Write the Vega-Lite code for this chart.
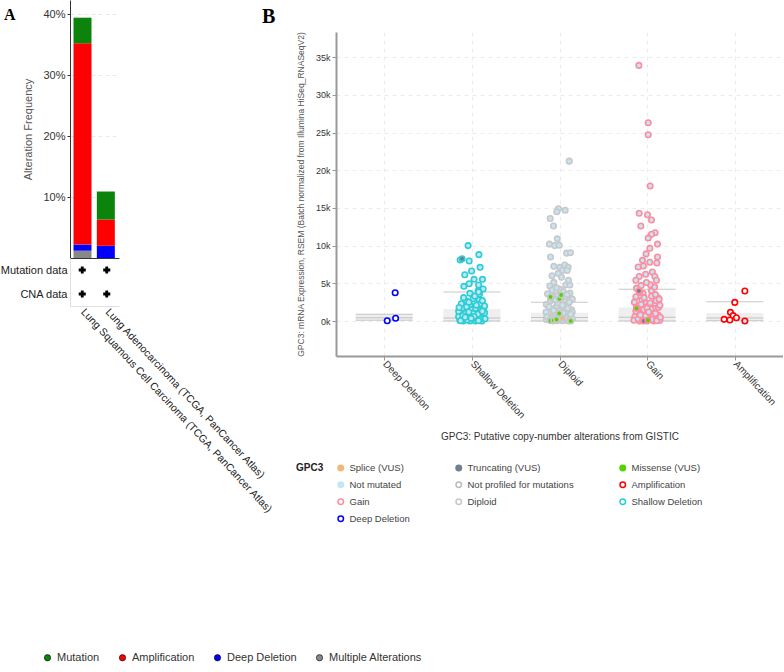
{
  "$schema": "https://vega.github.io/schema/vega-lite/v6.json",
  "padding": {"left": 0, "top": 0, "right": 0, "bottom": 0},
  "background": "white",
  "config": {"font": "Liberation Sans", "view": {"stroke": null}},
  "datasets": {
    "freq": [
      {"study": "Lung Squamous Cell Carcinoma (TCGA, PanCancer Atlas)", "type": "Multiple Alterations", "lo": 0, "hi": 1.2},
      {"study": "Lung Squamous Cell Carcinoma (TCGA, PanCancer Atlas)", "type": "Deep Deletion", "lo": 1.2, "hi": 2.2},
      {"study": "Lung Squamous Cell Carcinoma (TCGA, PanCancer Atlas)", "type": "Amplification", "lo": 2.2, "hi": 35.2},
      {"study": "Lung Squamous Cell Carcinoma (TCGA, PanCancer Atlas)", "type": "Mutation", "lo": 35.2, "hi": 39.4},
      {"study": "Lung Adenocarcinoma (TCGA, PanCancer Atlas)", "type": "Deep Deletion", "lo": 0, "hi": 2.0},
      {"study": "Lung Adenocarcinoma (TCGA, PanCancer Atlas)", "type": "Amplification", "lo": 2.0, "hi": 6.3},
      {"study": "Lung Adenocarcinoma (TCGA, PanCancer Atlas)", "type": "Mutation", "lo": 6.3, "hi": 10.9}
    ],
    "profile": [
      {"study": "Lung Squamous Cell Carcinoma (TCGA, PanCancer Atlas)", "row": "Mutation data"},
      {"study": "Lung Squamous Cell Carcinoma (TCGA, PanCancer Atlas)", "row": "CNA data"},
      {"study": "Lung Adenocarcinoma (TCGA, PanCancer Atlas)", "row": "Mutation data"},
      {"study": "Lung Adenocarcinoma (TCGA, PanCancer Atlas)", "row": "CNA data"}
    ],
    "blank": [{"t": ""}],
    "box": [
      {"c": "Deep Deletion", "lo": 100, "q1": 100, "med": 440, "q3": 900, "hi": 900},
      {"c": "Shallow Deletion", "lo": 0, "q1": 0, "med": 400, "q3": 1600, "hi": 3850},
      {"c": "Diploid", "lo": 0, "q1": 0, "med": 450, "q3": 1100, "hi": 2500},
      {"c": "Gain", "lo": 0, "q1": 0, "med": 500, "q3": 1800, "hi": 4200},
      {"c": "Amplification", "lo": 50, "q1": 50, "med": 400, "q3": 1050, "hi": 2550}
    ],
    "pts": [
      {"c": "Deep Deletion", "v": 40, "j": 0.2, "m": "Not profiled for mutations"},
      {"c": "Deep Deletion", "v": 360, "j": 0.76, "m": "Not profiled for mutations"},
      {"c": "Deep Deletion", "v": 3750, "j": 0.73, "m": "Not profiled for mutations"},

      {"c": "Shallow Deletion", "v": 10000, "j": -0.25, "m": "Not mutated"},
      {"c": "Shallow Deletion", "v": 8800, "j": 0.47, "m": "Not mutated"},
      {"c": "Shallow Deletion", "v": 8100, "j": -0.78, "m": "Not mutated"},
      {"c": "Shallow Deletion", "v": 7960, "j": -0.18, "m": "Not mutated"},
      {"c": "Shallow Deletion", "v": 7120, "j": 0.55, "m": "Not mutated"},
      {"c": "Shallow Deletion", "v": 6630, "j": -0.02, "m": "Not mutated"},
      {"c": "Shallow Deletion", "v": 6140, "j": -0.47, "m": "Not mutated"},
      {"c": "Shallow Deletion", "v": 5530, "j": 0.15, "m": "Not mutated"},
      {"c": "Shallow Deletion", "v": 5530, "j": 0.71, "m": "Not mutated"},
      {"c": "Shallow Deletion", "v": 4600, "j": -0.53, "m": "Not mutated"},
      {"c": "Shallow Deletion", "v": 4950, "j": -0.18, "m": "Not mutated"},
      {"c": "Shallow Deletion", "v": 4770, "j": 0.45, "m": "Not mutated"},
      {"c": "Shallow Deletion", "v": 4240, "j": 0.75, "m": "Not mutated"},
      {"c": "Shallow Deletion", "v": 4000, "j": 0.42, "m": "Not mutated"},
      {"c": "Shallow Deletion", "v": 3670, "j": -0.13, "m": "Not mutated"},
      {"c": "Shallow Deletion", "v": 3580, "j": 0.51, "m": "Not mutated"},
      {"c": "Shallow Deletion", "v": 2650, "j": -0.36, "m": "Not mutated"},
      {"c": "Shallow Deletion", "v": 2960, "j": 0.09, "m": "Not mutated"},
      {"c": "Shallow Deletion", "v": 2790, "j": 0.49, "m": "Not mutated"},
      {"c": "Shallow Deletion", "v": 1720, "j": -0.64, "m": "Not mutated"},
      {"c": "Shallow Deletion", "v": 2120, "j": -0.13, "m": "Not mutated"},
      {"c": "Shallow Deletion", "v": 1630, "j": 0.76, "m": "Not mutated"},
      {"c": "Shallow Deletion", "v": 1230, "j": 0.31, "m": "Not mutated"},
      {"c": "Shallow Deletion", "v": 1020, "j": -0.47, "m": "Not mutated"},
      {"c": "Shallow Deletion", "v": 800, "j": 0.04, "m": "Not mutated"},
      {"c": "Shallow Deletion", "v": 800, "j": 0.64, "m": "Not mutated"},
      {"c": "Shallow Deletion", "v": 360, "j": -0.69, "m": "Not mutated"},
      {"c": "Shallow Deletion", "v": 440, "j": -0.24, "m": "Not mutated"},
      {"c": "Shallow Deletion", "v": 440, "j": 0.31, "m": "Not mutated"},
      {"c": "Shallow Deletion", "v": 440, "j": 0.76, "m": "Not mutated"},
      {"c": "Shallow Deletion", "v": 0, "j": -0.58, "m": "Not mutated"},
      {"c": "Shallow Deletion", "v": 0, "j": -0.13, "m": "Not mutated"},
      {"c": "Shallow Deletion", "v": 0, "j": 0.24, "m": "Not mutated"},
      {"c": "Shallow Deletion", "v": 0, "j": 0.67, "m": "Not mutated"},
      {"c": "Shallow Deletion", "v": 100, "j": -0.8, "m": "Not mutated"},
      {"c": "Shallow Deletion", "v": 600, "j": -0.88, "m": "Not mutated"},
      {"c": "Shallow Deletion", "v": 300, "j": 0.88, "m": "Not mutated"},
      {"c": "Shallow Deletion", "v": 1500, "j": 0.0, "m": "Not mutated"},
      {"c": "Shallow Deletion", "v": 1900, "j": -0.35, "m": "Not mutated"},
      {"c": "Shallow Deletion", "v": 2300, "j": 0.55, "m": "Not mutated"},
      {"c": "Shallow Deletion", "v": 3100, "j": -0.55, "m": "Not mutated"},
      {"c": "Shallow Deletion", "v": 3300, "j": 0.2, "m": "Not mutated"},
      {"c": "Shallow Deletion", "v": 1100, "j": 0.85, "m": "Not mutated"},
      {"c": "Shallow Deletion", "v": 1300, "j": -0.88, "m": "Not mutated"},
      {"c": "Shallow Deletion", "v": 200, "j": 0.35, "m": "Not mutated"},
      {"c": "Shallow Deletion", "v": 200, "j": -0.4, "m": "Not mutated"},
      {"c": "Shallow Deletion", "v": 1000, "j": 0.1, "m": "Not mutated"},
      {"c": "Shallow Deletion", "v": 1450, "j": 0.6, "m": "Not mutated"},
      {"c": "Shallow Deletion", "v": 2500, "j": -0.2, "m": "Not mutated"},
      {"c": "Shallow Deletion", "v": 2000, "j": 0.85, "m": "Not mutated"},
      {"c": "Shallow Deletion", "v": 2300, "j": -0.7, "m": "Not mutated"},
      {"c": "Shallow Deletion", "v": 3850, "j": 0.45, "m": "Not mutated"},
      {"c": "Shallow Deletion", "v": 150, "j": -0.3, "m": "Not mutated"},
      {"c": "Shallow Deletion", "v": 250, "j": 0.55, "m": "Not mutated"},
      {"c": "Shallow Deletion", "v": 700, "j": -0.6, "m": "Not mutated"},
      {"c": "Shallow Deletion", "v": 900, "j": 0.4, "m": "Not mutated"},
      {"c": "Shallow Deletion", "v": 1200, "j": -0.2, "m": "Not mutated"},
      {"c": "Shallow Deletion", "v": 1700, "j": 0.25, "m": "Not mutated"},
      {"c": "Shallow Deletion", "v": 600, "j": 0.15, "m": "Not mutated"},
      {"c": "Shallow Deletion", "v": 50, "j": 0.45, "m": "Not mutated"},
      {"c": "Shallow Deletion", "v": 50, "j": -0.75, "m": "Not mutated"},
      {"c": "Shallow Deletion", "v": 1800, "j": -0.85, "m": "Not mutated"},
      {"c": "Shallow Deletion", "v": 2700, "j": 0.7, "m": "Not mutated"},
      {"c": "Shallow Deletion", "v": 350, "j": -0.05, "m": "Not mutated"},
      {"c": "Shallow Deletion", "v": 1300, "j": 0.7, "m": "Not mutated"},
      {"c": "Shallow Deletion", "v": 2100, "j": 0.3, "m": "Not mutated"},
      {"c": "Shallow Deletion", "v": 500, "j": -0.45, "m": "Not mutated"},
      {"c": "Shallow Deletion", "v": 8260, "j": -0.65, "m": "Truncating (VUS)"},

      {"c": "Diploid", "v": 21200, "j": 0.65, "m": "Not mutated"},
      {"c": "Diploid", "v": 14900, "j": -0.07, "m": "Not mutated"},
      {"c": "Diploid", "v": 14700, "j": 0.38, "m": "Not mutated"},
      {"c": "Diploid", "v": 14500, "j": -0.18, "m": "Not mutated"},
      {"c": "Diploid", "v": 13600, "j": -0.62, "m": "Not mutated"},
      {"c": "Diploid", "v": 12600, "j": -0.4, "m": "Not mutated"},
      {"c": "Diploid", "v": 10900, "j": -0.15, "m": "Not mutated"},
      {"c": "Diploid", "v": 10200, "j": -0.67, "m": "Not mutated"},
      {"c": "Diploid", "v": 10000, "j": -0.33, "m": "Not mutated"},
      {"c": "Diploid", "v": 10050, "j": -0.02, "m": "Not mutated"},
      {"c": "Diploid", "v": 8500, "j": -0.6, "m": "Not mutated"},
      {"c": "Diploid", "v": 9000, "j": 0.47, "m": "Not mutated"},
      {"c": "Diploid", "v": 9060, "j": 0.73, "m": "Not mutated"},
      {"c": "Diploid", "v": 7250, "j": -0.38, "m": "Not mutated"},
      {"c": "Diploid", "v": 7120, "j": 0.02, "m": "Not mutated"},
      {"c": "Diploid", "v": 7430, "j": 0.35, "m": "Not mutated"},
      {"c": "Diploid", "v": 7120, "j": 0.58, "m": "Not mutated"},
      {"c": "Diploid", "v": 6320, "j": -0.09, "m": "Not mutated"},
      {"c": "Diploid", "v": 6720, "j": 0.2, "m": "Not mutated"},
      {"c": "Diploid", "v": 6700, "j": 0.51, "m": "Not mutated"},
      {"c": "Diploid", "v": 5130, "j": -0.38, "m": "Not mutated"},
      {"c": "Diploid", "v": 5800, "j": 0.13, "m": "Not mutated"},
      {"c": "Diploid", "v": 4640, "j": -0.64, "m": "Not mutated"},
      {"c": "Diploid", "v": 4770, "j": 0.42, "m": "Not mutated"},
      {"c": "Diploid", "v": 4770, "j": 0.69, "m": "Not mutated"},
      {"c": "Diploid", "v": 4100, "j": -0.49, "m": "Not mutated"},
      {"c": "Diploid", "v": 4200, "j": 0.02, "m": "Not mutated"},
      {"c": "Diploid", "v": 3600, "j": -0.8, "m": "Not mutated"},
      {"c": "Diploid", "v": 3700, "j": 0.7, "m": "Not mutated"},
      {"c": "Diploid", "v": 3300, "j": -0.3, "m": "Not mutated"},
      {"c": "Diploid", "v": 3200, "j": 0.4, "m": "Not mutated"},
      {"c": "Diploid", "v": 2900, "j": 0.85, "m": "Not mutated"},
      {"c": "Diploid", "v": 2700, "j": -0.6, "m": "Not mutated"},
      {"c": "Diploid", "v": 2600, "j": 0.1, "m": "Not mutated"},
      {"c": "Diploid", "v": 2200, "j": -0.88, "m": "Not mutated"},
      {"c": "Diploid", "v": 2300, "j": 0.55, "m": "Not mutated"},
      {"c": "Diploid", "v": 2000, "j": -0.2, "m": "Not mutated"},
      {"c": "Diploid", "v": 1800, "j": 0.3, "m": "Not mutated"},
      {"c": "Diploid", "v": 1600, "j": -0.5, "m": "Not mutated"},
      {"c": "Diploid", "v": 1500, "j": 0.8, "m": "Not mutated"},
      {"c": "Diploid", "v": 1300, "j": 0.0, "m": "Not mutated"},
      {"c": "Diploid", "v": 1100, "j": -0.75, "m": "Not mutated"},
      {"c": "Diploid", "v": 1000, "j": 0.45, "m": "Not mutated"},
      {"c": "Diploid", "v": 800, "j": -0.3, "m": "Not mutated"},
      {"c": "Diploid", "v": 700, "j": 0.65, "m": "Not mutated"},
      {"c": "Diploid", "v": 500, "j": 0.15, "m": "Not mutated"},
      {"c": "Diploid", "v": 400, "j": -0.55, "m": "Not mutated"},
      {"c": "Diploid", "v": 300, "j": 0.88, "m": "Not mutated"},
      {"c": "Diploid", "v": 200, "j": -0.88, "m": "Not mutated"},
      {"c": "Diploid", "v": 100, "j": 0.3, "m": "Not mutated"},
      {"c": "Diploid", "v": 50, "j": -0.15, "m": "Not mutated"},
      {"c": "Diploid", "v": 0, "j": 0.6, "m": "Not mutated"},
      {"c": "Diploid", "v": 0, "j": -0.4, "m": "Not mutated"},
      {"c": "Diploid", "v": 250, "j": 0.05, "m": "Not mutated"},
      {"c": "Diploid", "v": 600, "j": -0.85, "m": "Not mutated"},
      {"c": "Diploid", "v": 1200, "j": 0.85, "m": "Not mutated"},
      {"c": "Diploid", "v": 2400, "j": -0.1, "m": "Not mutated"},
      {"c": "Diploid", "v": 3900, "j": 0.25, "m": "Not mutated"},
      {"c": "Diploid", "v": 3000, "j": -0.45, "m": "Not mutated"},
      {"c": "Diploid", "v": 150, "j": -0.65, "m": "Not mutated"},
      {"c": "Diploid", "v": 450, "j": 0.35, "m": "Not mutated"},
      {"c": "Diploid", "v": 650, "j": -0.1, "m": "Not mutated"},
      {"c": "Diploid", "v": 900, "j": 0.75, "m": "Not mutated"},
      {"c": "Diploid", "v": 1400, "j": -0.4, "m": "Not mutated"},
      {"c": "Diploid", "v": 1700, "j": 0.55, "m": "Not mutated"},
      {"c": "Diploid", "v": 1900, "j": -0.7, "m": "Not mutated"},
      {"c": "Diploid", "v": 2100, "j": 0.2, "m": "Not mutated"},
      {"c": "Diploid", "v": 2500, "j": 0.65, "m": "Not mutated"},
      {"c": "Diploid", "v": 2800, "j": -0.25, "m": "Not mutated"},
      {"c": "Diploid", "v": 3400, "j": -0.1, "m": "Not mutated"},
      {"c": "Diploid", "v": 3500, "j": 0.5, "m": "Not mutated"},
      {"c": "Diploid", "v": 1200, "j": -0.9, "m": "Not mutated"},
      {"c": "Diploid", "v": 50, "j": 0.2, "m": "Not mutated"},
      {"c": "Diploid", "v": 350, "j": -0.3, "m": "Not mutated"},
      {"c": "Diploid", "v": 750, "j": 0.05, "m": "Not mutated"},
      {"c": "Diploid", "v": 1050, "j": 0.25, "m": "Not mutated"},
      {"c": "Diploid", "v": 4400, "j": -0.2, "m": "Not mutated"},
      {"c": "Diploid", "v": 5400, "j": 0.6, "m": "Not mutated"},
      {"c": "Diploid", "v": 6000, "j": -0.5, "m": "Not mutated"},
      {"c": "Diploid", "v": 3200, "j": -0.6, "m": "Missense (VUS)"},
      {"c": "Diploid", "v": 2960, "j": 0.0, "m": "Missense (VUS)"},
      {"c": "Diploid", "v": 3450, "j": 0.11, "m": "Missense (VUS)"},
      {"c": "Diploid", "v": 1000, "j": -0.02, "m": "Missense (VUS)"},
      {"c": "Diploid", "v": 40, "j": -0.6, "m": "Missense (VUS)"},
      {"c": "Diploid", "v": 0, "j": 0.75, "m": "Missense (VUS)"},
      {"c": "Diploid", "v": 100, "j": -0.38, "m": "Missense (VUS)"},
      {"c": "Diploid", "v": 200, "j": -0.2, "m": "Missense (VUS)"},
      {"c": "Diploid", "v": 350, "j": 0.18, "m": "Splice (VUS)"},

      {"c": "Gain", "v": 33900, "j": -0.55, "m": "Not mutated"},
      {"c": "Gain", "v": 26300, "j": 0.07, "m": "Not mutated"},
      {"c": "Gain", "v": 24700, "j": 0.07, "m": "Not mutated"},
      {"c": "Gain", "v": 17900, "j": 0.2, "m": "Not mutated"},
      {"c": "Gain", "v": 14300, "j": -0.53, "m": "Not mutated"},
      {"c": "Gain", "v": 14100, "j": 0.02, "m": "Not mutated"},
      {"c": "Gain", "v": 13400, "j": 0.29, "m": "Not mutated"},
      {"c": "Gain", "v": 12600, "j": -0.42, "m": "Not mutated"},
      {"c": "Gain", "v": 11700, "j": 0.53, "m": "Not mutated"},
      {"c": "Gain", "v": 11500, "j": 0.29, "m": "Not mutated"},
      {"c": "Gain", "v": 11000, "j": 0.07, "m": "Not mutated"},
      {"c": "Gain", "v": 10200, "j": 0.69, "m": "Not mutated"},
      {"c": "Gain", "v": 9640, "j": 0.18, "m": "Not mutated"},
      {"c": "Gain", "v": 8900, "j": -0.07, "m": "Not mutated"},
      {"c": "Gain", "v": 8500, "j": 0.69, "m": "Not mutated"},
      {"c": "Gain", "v": 8050, "j": -0.31, "m": "Not mutated"},
      {"c": "Gain", "v": 7800, "j": 0.18, "m": "Not mutated"},
      {"c": "Gain", "v": 7700, "j": 0.65, "m": "Not mutated"},
      {"c": "Gain", "v": 7160, "j": -0.6, "m": "Not mutated"},
      {"c": "Gain", "v": 7300, "j": -0.25, "m": "Not mutated"},
      {"c": "Gain", "v": 6500, "j": 0.35, "m": "Not mutated"},
      {"c": "Gain", "v": 5900, "j": 0.51, "m": "Not mutated"},
      {"c": "Gain", "v": 5900, "j": -0.53, "m": "Not mutated"},
      {"c": "Gain", "v": 5400, "j": 0.62, "m": "Not mutated"},
      {"c": "Gain", "v": 4800, "j": 0.22, "m": "Not mutated"},
      {"c": "Gain", "v": 5400, "j": -0.75, "m": "Not mutated"},
      {"c": "Gain", "v": 4330, "j": -0.71, "m": "Not mutated"},
      {"c": "Gain", "v": 3670, "j": -0.27, "m": "Not mutated"},
      {"c": "Gain", "v": 4000, "j": 0.29, "m": "Not mutated"},
      {"c": "Gain", "v": 3090, "j": 0.73, "m": "Not mutated"},
      {"c": "Gain", "v": 3220, "j": -0.75, "m": "Not mutated"},
      {"c": "Gain", "v": 2560, "j": -0.16, "m": "Not mutated"},
      {"c": "Gain", "v": 2340, "j": 0.51, "m": "Not mutated"},
      {"c": "Gain", "v": 1460, "j": -0.27, "m": "Not mutated"},
      {"c": "Gain", "v": 1230, "j": 0.35, "m": "Not mutated"},
      {"c": "Gain", "v": 800, "j": 0.73, "m": "Not mutated"},
      {"c": "Gain", "v": 570, "j": -0.82, "m": "Not mutated"},
      {"c": "Gain", "v": 440, "j": -0.38, "m": "Not mutated"},
      {"c": "Gain", "v": 440, "j": 0.18, "m": "Not mutated"},
      {"c": "Gain", "v": 360, "j": 0.62, "m": "Not mutated"},
      {"c": "Gain", "v": 100, "j": -0.88, "m": "Not mutated"},
      {"c": "Gain", "v": 0, "j": -0.5, "m": "Not mutated"},
      {"c": "Gain", "v": 0, "j": 0.0, "m": "Not mutated"},
      {"c": "Gain", "v": 0, "j": 0.45, "m": "Not mutated"},
      {"c": "Gain", "v": 100, "j": 0.85, "m": "Not mutated"},
      {"c": "Gain", "v": 2000, "j": -0.7, "m": "Not mutated"},
      {"c": "Gain", "v": 1900, "j": 0.05, "m": "Not mutated"},
      {"c": "Gain", "v": 1800, "j": 0.75, "m": "Not mutated"},
      {"c": "Gain", "v": 2800, "j": -0.35, "m": "Not mutated"},
      {"c": "Gain", "v": 3300, "j": 0.3, "m": "Not mutated"},
      {"c": "Gain", "v": 5100, "j": -0.05, "m": "Not mutated"},
      {"c": "Gain", "v": 4500, "j": 0.5, "m": "Not mutated"},
      {"c": "Gain", "v": 1100, "j": -0.5, "m": "Not mutated"},
      {"c": "Gain", "v": 900, "j": 0.15, "m": "Not mutated"},
      {"c": "Gain", "v": 2700, "j": 0.6, "m": "Not mutated"},
      {"c": "Gain", "v": 3100, "j": -0.2, "m": "Not mutated"},
      {"c": "Gain", "v": 2500, "j": -0.85, "m": "Not mutated"},
      {"c": "Gain", "v": 2100, "j": 0.85, "m": "Not mutated"},
      {"c": "Gain", "v": 600, "j": 0.4, "m": "Not mutated"},
      {"c": "Gain", "v": 250, "j": -0.15, "m": "Not mutated"},
      {"c": "Gain", "v": 1500, "j": -0.6, "m": "Not mutated"},
      {"c": "Gain", "v": 1600, "j": 0.25, "m": "Not mutated"},
      {"c": "Gain", "v": 200, "j": 0.3, "m": "Not mutated"},
      {"c": "Gain", "v": 300, "j": -0.6, "m": "Not mutated"},
      {"c": "Gain", "v": 700, "j": -0.1, "m": "Not mutated"},
      {"c": "Gain", "v": 1000, "j": 0.55, "m": "Not mutated"},
      {"c": "Gain", "v": 1300, "j": -0.75, "m": "Not mutated"},
      {"c": "Gain", "v": 1700, "j": 0.0, "m": "Not mutated"},
      {"c": "Gain", "v": 2200, "j": -0.4, "m": "Not mutated"},
      {"c": "Gain", "v": 2400, "j": 0.2, "m": "Not mutated"},
      {"c": "Gain", "v": 2900, "j": 0.8, "m": "Not mutated"},
      {"c": "Gain", "v": 3500, "j": 0.55, "m": "Not mutated"},
      {"c": "Gain", "v": 3800, "j": -0.5, "m": "Not mutated"},
      {"c": "Gain", "v": 50, "j": 0.65, "m": "Not mutated"},
      {"c": "Gain", "v": 50, "j": -0.3, "m": "Not mutated"},
      {"c": "Gain", "v": 500, "j": 0.88, "m": "Not mutated"},
      {"c": "Gain", "v": 800, "j": -0.45, "m": "Not mutated"},
      {"c": "Gain", "v": 1200, "j": 0.1, "m": "Not mutated"},
      {"c": "Gain", "v": 6200, "j": -0.1, "m": "Not mutated"},
      {"c": "Gain", "v": 4700, "j": -0.4, "m": "Not mutated"},
      {"c": "Gain", "v": 4000, "j": -0.55, "m": "Truncating (VUS)"},
      {"c": "Gain", "v": 1680, "j": -0.71, "m": "Missense (VUS)"},
      {"c": "Gain", "v": 0, "j": -0.22, "m": "Truncating (VUS)"},
      {"c": "Gain", "v": 100, "j": 0.05, "m": "Missense (VUS)"},

      {"c": "Amplification", "v": 3980, "j": 0.67, "m": "Not profiled for mutations"},
      {"c": "Amplification", "v": 2470, "j": 0.0, "m": "Not profiled for mutations"},
      {"c": "Amplification", "v": 1150, "j": -0.29, "m": "Not profiled for mutations"},
      {"c": "Amplification", "v": 710, "j": -0.11, "m": "Not profiled for mutations"},
      {"c": "Amplification", "v": 440, "j": 0.11, "m": "Not profiled for mutations"},
      {"c": "Amplification", "v": 220, "j": -0.71, "m": "Not profiled for mutations"},
      {"c": "Amplification", "v": 130, "j": -0.33, "m": "Not profiled for mutations"},
      {"c": "Amplification", "v": 0, "j": 0.67, "m": "Not mutated"}
    ]
  },
  "hconcat": [
    {
      "vconcat": [
        {
          "width": 49,
          "height": 258,
          "data": {"name": "freq"},
          "title": {"text": "A", "anchor": "start", "frame": "group", "dx": -66, "dy": 36, "offset": 0, "baseline": "alphabetic", "font": "Liberation Serif", "fontSize": 16, "fontWeight": "bold", "color": "#000"},
          "mark": {"type": "bar"},
          "encoding": {
            "x": {"field": "study", "type": "nominal", "sort": null,
                  "scale": {"domain": ["Lung Squamous Cell Carcinoma (TCGA, PanCancer Atlas)", "Lung Adenocarcinoma (TCGA, PanCancer Atlas)"], "paddingInner": 0.2, "paddingOuter": 0.15},
                  "axis": {"labels": false, "ticks": false, "title": null, "domainColor": "#333", "grid": false}},
            "y": {"field": "lo", "type": "quantitative",
                  "scale": {"domain": [0, 42.3], "nice": false},
                  "axis": {"values": [10, 20, 30, 40], "labelExpr": "datum.value + '%'", "title": "Alteration Frequency", "titleFontWeight": "normal", "titleFontSize": 11, "titleColor": "#555", "titlePadding": 9, "labelFontSize": 11, "labelColor": "#333", "domainColor": "#333", "tickColor": "#333", "tickSize": 3, "gridDash": [4, 3], "gridColor": "#e8e8e8"}},
            "y2": {"field": "hi"},
            "color": {"field": "type", "type": "nominal",
                      "scale": {"domain": ["Mutation", "Amplification", "Deep Deletion", "Multiple Alterations"], "range": ["#0c840c", "#ff0000", "#0000ff", "#888888"]},
                      "legend": {"orient": "none", "legendX": -28, "legendY": 652, "direction": "horizontal", "title": null, "symbolType": "circle", "symbolSize": 40, "labelFontSize": 11, "labelColor": "#333", "columnPadding": 17,
                                 "encode": {"symbols": {"update": {"stroke": {"value": "#000"}, "strokeWidth": {"value": 0.6}}}}}}
          }
        },
        {
          "width": 49,
          "height": 48,
          "data": {"name": "profile"},
          "mark": {"type": "point", "shape": "cross", "filled": true, "color": "#000", "size": 50, "opacity": 1},
          "encoding": {
            "x": {"field": "study", "type": "nominal", "sort": null,
                  "scale": {"domain": ["Lung Squamous Cell Carcinoma (TCGA, PanCancer Atlas)", "Lung Adenocarcinoma (TCGA, PanCancer Atlas)"], "paddingInner": 0.2, "paddingOuter": 0.15},
                  "axis": {"title": null, "labelAngle": 47, "labelFontSize": 10.5, "labelColor": "#222", "labelLimit": 400, "ticks": false, "domainColor": "#e0e0e0", "labelPadding": 4}},
            "y": {"field": "row", "type": "nominal", "sort": null,
                  "scale": {"domain": ["Mutation data", "CNA data"]},
                  "axis": {"title": null, "ticks": false, "domainColor": "#e0e0e0", "labelFontSize": 11, "labelColor": "#222", "labelPadding": 3}}
          }
        }
      ],
      "spacing": 0,
      "bounds": "flush",
      "resolve": {"scale": {"color": "independent"}, "legend": {"color": "independent"}}
    },
    {
      "vconcat": [
        {
          "width": 447,
          "height": 20,
          "data": {"name": "blank"},
          "mark": {"type": "text"},
          "encoding": {"text": {"field": "t"}}
        },
        {
          "width": 447,
          "height": 324,
          "title": {"text": "B", "anchor": "start", "frame": "group", "dx": -74, "offset": 4, "font": "Liberation Serif", "fontSize": 20, "fontWeight": "bold", "color": "#000"},
          "encoding": {
            "x": {"field": "c", "type": "nominal", "sort": null,
                  "scale": {"type": "point", "domain": ["Deep Deletion", "Shallow Deletion", "Diploid", "Gain", "Amplification"], "padding": 0.55},
                  "axis": {"title": "GPC3: Putative copy-number alterations from GISTIC", "titleFontSize": 10, "titleFontWeight": "normal", "titleColor": "#333", "titlePadding": 12, "labelAngle": 47, "labelFontSize": 10, "labelColor": "#333", "domainColor": "#999", "domainWidth": 2, "tickColor": "#999", "tickSize": 4, "grid": true, "gridDash": [4, 4], "gridColor": "#ececec"}}
          },
          "layer": [
            {
              "data": {"name": "box"},
              "mark": {"type": "bar", "width": 57, "color": "#efefef"},
              "encoding": {
                "y": {"field": "q1", "type": "quantitative"},
                "y2": {"field": "q3"}
              }
            },
            {
              "data": {"name": "box"},
              "transform": [{"fold": ["lo", "med", "hi"], "as": ["k", "val"]}],
              "mark": {"type": "tick", "color": "#b0b0b0", "thickness": 1, "size": 57},
              "encoding": {
                "y": {"field": "val", "type": "quantitative"}
              }
            },
            {
              "data": {"name": "pts"},
              "mark": {"type": "point", "shape": "circle", "filled": true, "size": 30, "strokeWidth": 1.6, "opacity": 1},
              "encoding": {
                "xOffset": {"field": "j", "type": "quantitative", "scale": {"domain": [-1, 1], "range": [-15, 15]}},
                "y": {"field": "v", "type": "quantitative",
                      "scale": {"domain": [-4640, 38330], "nice": false, "zero": false},
                      "axis": {"values": [0, 5000, 10000, 15000, 20000, 25000, 30000, 35000], "format": "~s", "title": "GPC3: mRNA Expression, RSEM (Batch normalized from Illumina HiSeq_RNASeqV2)", "titleFontSize": 8.5, "titleFontWeight": "normal", "titleColor": "#555", "titlePadding": 10, "labelFontSize": 9, "labelColor": "#333", "domainColor": "#999", "domainWidth": 2, "tickColor": "#999", "tickSize": 4, "gridDash": [4, 4], "gridColor": "#ececec"}},
                "fill": {"field": "m", "type": "nominal",
                         "scale": {"domain": ["Splice (VUS)", "Truncating (VUS)", "Missense (VUS)", "Not mutated", "Not profiled for mutations", "Amplification", "Gain", "Diploid", "Shallow Deletion", "Deep Deletion"],
                                   "range": ["#f0b87b", "#708090", "#53d400", "#c4e5f5", "#ffffff", "#ffffff", "#ffffff", "#ffffff", "#ffffff", "#ffffff"]},
                         "legend": {"orient": "none", "legendX": -40, "legendY": 431, "direction": "horizontal", "columns": 3, "title": "GPC3", "titleOrient": "left", "titleAnchor": "start", "titleBaseline": "top", "titleFontSize": 10, "titleFontWeight": "bold", "titleColor": "#222", "titlePadding": 12, "labelFontSize": 9.5, "labelColor": "#444", "columnPadding": 43, "rowPadding": 5, "symbolType": "circle", "symbolSize": 30,
                                    "encode": {"symbols": {"update": {"size": {"signal": "indexof(['Splice (VUS)','Truncating (VUS)','Missense (VUS)','Not mutated'], datum.value) >= 0 ? 14 : 28"}, "strokeWidth": {"signal": "indexof(['Amplification','Gain','Shallow Deletion','Deep Deletion'], datum.value) >= 0 ? 1.8 : 0.8"}}}}}},
                "stroke": {"field": "c", "type": "nominal",
                           "scale": {"domain": ["Splice (VUS)", "Truncating (VUS)", "Missense (VUS)", "Not mutated", "Not profiled for mutations", "Amplification", "Gain", "Diploid", "Shallow Deletion", "Deep Deletion"],
                                     "range": ["#f0b87b", "#708090", "#53d400", "#c4e5f5", "#bbbbbb", "#ff0000", "#ff8c9f", "#c8c8c8", "#2aced4", "#0000ff"]},
                           "legend": {"orient": "none", "legendX": -40, "legendY": 431, "direction": "horizontal", "columns": 3, "title": "GPC3", "titleOrient": "left", "titleAnchor": "start", "titleBaseline": "top", "titleFontSize": 10, "titleFontWeight": "bold", "titleColor": "#222", "titlePadding": 12, "labelFontSize": 9.5, "labelColor": "#444", "columnPadding": 43, "rowPadding": 5, "symbolType": "circle", "symbolSize": 30,
                                      "encode": {"symbols": {"update": {"size": {"signal": "indexof(['Splice (VUS)','Truncating (VUS)','Missense (VUS)','Not mutated'], datum.value) >= 0 ? 14 : 28"}, "strokeWidth": {"signal": "indexof(['Amplification','Gain','Shallow Deletion','Deep Deletion'], datum.value) >= 0 ? 1.8 : 0.8"}}}}}}
              }
            }
          ]
        }
      ],
      "spacing": 12,
      "bounds": "flush",
      "resolve": {"scale": {"fill": "independent", "stroke": "independent"}, "legend": {"fill": "independent", "stroke": "independent"}}
    }
  ],
  "spacing": 266,
  "bounds": "flush",
  "resolve": {"scale": {"color": "independent", "fill": "independent", "stroke": "independent"}, "legend": {"color": "independent", "fill": "independent", "stroke": "independent"}}
}
